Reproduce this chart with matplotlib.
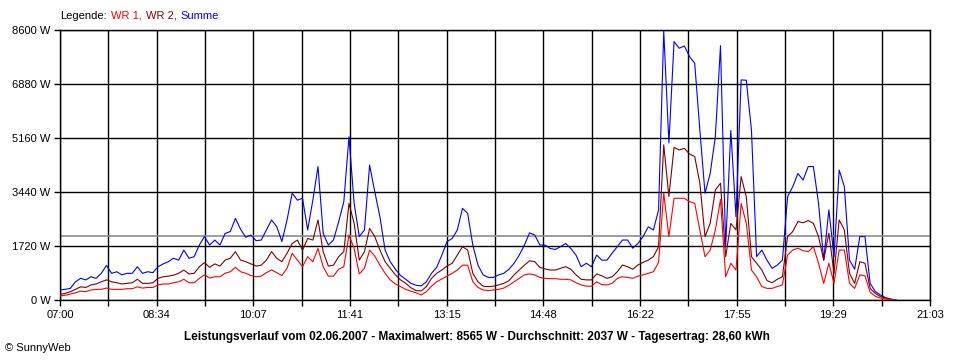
import numpy as np
import matplotlib
matplotlib.use('Agg')
import matplotlib.pyplot as plt

plt.rcParams['font.family'] = ['Liberation Sans', 'DejaVu Sans']

# power readings in W, one every 5 minutes starting at 07:00
summe = [
    320, 340, 370, 580, 690, 640, 740, 690, 850, 1100,
    850, 900, 800, 850, 850, 1060, 850, 900, 870, 1060,
    1150, 1220, 1330, 1270, 1590, 1330, 1380, 1750, 2020, 1750,
    1910, 1750, 2120, 2180, 2600, 2250, 2000, 2070, 1890, 1910,
    2230, 2550, 2340, 1860, 2550, 3400, 3180, 3240, 2230, 3180,
    4250, 2120, 1750, 1910, 2490, 3130, 5200, 3080, 2020, 2230,
    4300, 3450, 2650, 1590, 1220, 980, 780, 660, 530, 470,
    450, 580, 850, 1040, 1430, 1860, 1960, 2230, 2920, 2760,
    1750, 1110, 800, 720, 720, 800, 850, 980, 1170, 1430,
    1750, 2140, 2070, 1750, 1750, 1640, 1610, 1700, 1800, 1640,
    1430, 1060, 1170, 1060, 1430, 1270, 1270, 1490, 1700, 1910,
    1910, 1650, 1800, 2020, 2330, 2230, 2870, 8565, 5000, 8230,
    8020, 8090, 7750, 7540, 5410, 3400, 4030, 5200, 8100, 1700,
    5400, 2650, 7010, 7000, 5410, 1380, 1590, 1270, 1010, 1110,
    1270, 3290, 3610, 4030, 3820, 4250, 4250, 3080, 1270, 2870,
    1380, 4140, 3610, 1270, 980, 2020, 2020, 530, 270, 160,
    75, 30, 0,
]
wr2 = [
    180, 210, 265, 340, 420, 400, 480, 510, 580, 640,
    580, 550, 510, 530, 550, 660, 530, 530, 550, 690,
    740, 760, 790, 850, 955, 830, 850, 1060, 1190, 1040,
    1150, 1080, 1270, 1330, 1540, 1270, 1220, 1150, 1080, 1110,
    1270, 1540, 1330, 1220, 1490, 1800, 1910, 1590, 1960, 1910,
    2550, 1540, 1080, 1110, 1380, 1540, 3080, 2440, 1270, 1540,
    2280, 2020, 1590, 1220, 1010, 800, 640, 530, 390, 300,
    290, 425, 690, 850, 955, 1080, 1170, 1430, 1700, 1590,
    850, 580, 440, 425, 440, 480, 530, 615, 800, 955,
    1110, 1250, 1220, 1040, 990, 955, 955, 1010, 1060, 980,
    800, 660, 640, 640, 830, 770, 690, 740, 900, 1115,
    1060, 980, 1115, 1200, 1270, 1380, 1700, 4940, 3300, 4860,
    4780, 4830, 4650, 4570, 3720, 2020, 2440, 3500, 3720, 1380,
    2440, 2230, 3930, 3290, 1380, 1170, 960, 620, 550, 660,
    740, 2020, 2180, 2500, 2460, 2530, 2440, 2020, 1270, 2130,
    850, 2550, 2230, 850, 530, 1220, 1170, 370, 210, 110,
    60, 20, 0,
]
wr1 = [
    130, 150, 190, 230, 280, 265, 320, 340, 340, 380,
    340, 340, 340, 360, 360, 420, 380, 400, 400, 480,
    510, 510, 550, 580, 660, 550, 550, 690, 800, 700,
    740, 740, 850, 900, 1040, 900, 850, 780, 740, 760,
    870, 960, 870, 780, 1010, 1490, 1270, 1060, 1380, 1220,
    1640, 1060, 760, 760, 980, 1060, 2070, 1640, 830, 1010,
    1590, 1400, 1110, 850, 640, 510, 425, 340, 280, 230,
    160, 265, 440, 580, 670, 760, 850, 955, 1110, 1110,
    580, 400, 320, 300, 320, 340, 380, 470, 580, 690,
    800, 830, 800, 720, 690, 680, 680, 660, 660, 640,
    550, 480, 440, 440, 580, 490, 480, 530, 690, 740,
    720, 690, 760, 800, 850, 900, 1200, 3400, 2020, 3240,
    3240, 3240, 3130, 3080, 2230, 1380, 1590, 2230, 3200, 740,
    1170, 955, 3080, 2440, 955, 740, 430, 370, 370, 430,
    480, 1430, 1590, 1650, 1570, 1540, 1700, 1170, 530, 1170,
    530, 1590, 1590, 530, 370, 800, 770, 250, 120, 60,
    30, 10, 0,
]

time_labels = ['07:00', '08:34', '10:07', '11:41', '13:15',
               '14:48', '16:22', '17:55', '19:29', '21:03']
y_ticks = [0, 1720, 3440, 5160, 6880, 8600]
avg_w = 2037
span_min = 843  # 07:00 .. 21:03

fig = plt.figure(figsize=(9.6, 3.6), dpi=100)
ax = fig.add_axes([60 / 960, 60 / 360, 870 / 960, 270 / 360])

t = np.arange(len(summe)) * 5
ax.plot(t, summe, color='#0000ff', lw=0.8, zorder=3)
ax.plot(t, wr2, color='#800000', lw=0.8, zorder=3)
ax.plot(t, wr1, color='#ff0000', lw=0.8, zorder=3)
ax.axhline(avg_w, color='#8c8c8c', lw=1.2, zorder=2)

ax.set_xlim(0, span_min)
ax.set_ylim(0, 8600)
all_ticks = np.linspace(0, span_min, 19)
ax.set_xticks(all_ticks[::2])
ax.set_xticks(all_ticks[1::2], minor=True)
ax.set_xticklabels(time_labels)
ax.set_yticks(y_ticks)
ax.set_yticklabels([f'{v} W' for v in y_ticks])

ax.grid(True, which='both', axis='x', color='black', lw=1)
ax.grid(True, axis='y', color='black', lw=1)
ax.set_axisbelow(True)
ax.tick_params(which='both', direction='out', length=4, width=1,
               colors='black', labelsize=8, pad=3)
for s in ax.spines.values():
    s.set_color('black')
    s.set_linewidth(1)

# legend line at the top: words placed one after another
legend_parts = [('Legende:', 'black'), ('WR 1,', '#ff0000'),
                ('WR 2,', '#800000'), ('Summe', '#0000ff')]
renderer = fig.canvas.get_renderer()
x_px = 60
for txt, col in legend_parts:
    tt = fig.text(x_px / 960, 1 - 19 / 360, txt, color=col, fontsize=8,
                  va='baseline', ha='left')
    bb = tt.get_window_extent(renderer=renderer)
    x_px = bb.x1 + 4

fig.text(0.497, 1 - 337 / 360,
         'Leistungsverlauf vom 02.06.2007 - Maximalwert: 8565 W - Durchschnitt: 2037 W - Tagesertrag: 28,60 kWh',
         ha='center', va='center', fontsize=8.5, fontweight='bold')
fig.text(5 / 960, 1 - 348 / 360, '© SunnyWeb', fontsize=8, va='center')

fig.savefig('out.png', dpi=100, facecolor='white')
